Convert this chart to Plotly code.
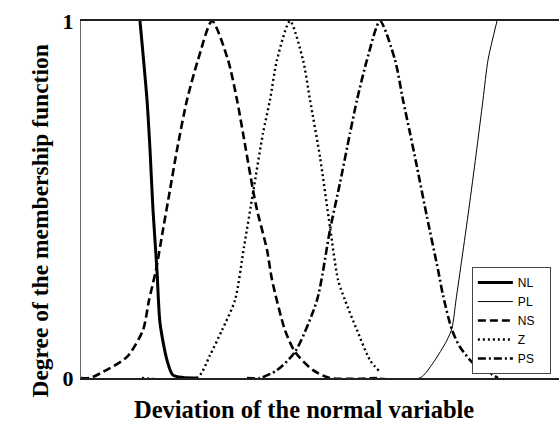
import plotly.graph_objects as go

# Deviation axis in arbitrary units (0..100 spans the plot width)
nl_x = [12.34, 13.81, 14.44, 15.06, 15.90, 16.53, 17.99, 19.25, 24.48]
nl_y = [1.0, 0.779, 0.639, 0.471, 0.30, 0.154, 0.050, 0.008, 0.0]

pl_x = [62.55, 70.92, 73.64, 76.57, 77.62, 78.45, 79.71, 81.17, 82.64, 84.10, 85.15, 87.03]
pl_y = [0.0, 0.0, 0.042, 0.106, 0.140, 0.218, 0.336, 0.476, 0.625, 0.779, 0.891, 1.0]

ns_x = [0, 1.88, 4.60, 9.62, 12.97, 14.23, 15.69, 17.15, 18.62, 20.08, 22.18, 24.48, 27.41,
        30.75, 32.64, 33.89, 35.98, 36.82, 38.91, 39.96, 42.68, 44.77, 48.54, 52.09, 61.92]
ns_y = [0, 0, 0.017, 0.059, 0.134, 0.218, 0.303, 0.415, 0.527, 0.639, 0.779, 0.891, 1.0,
        0.891, 0.779, 0.686, 0.527, 0.471, 0.359, 0.275, 0.134, 0.073, 0.022, 0, 0]

z_x = [12.76, 24.27, 26.99, 29.50, 32.22, 34.10, 35.98, 38.08, 39.54, 41.00, 43.72,
       46.44, 47.91, 50.00, 52.09, 53.77, 55.23, 57.74, 60.46, 62.55]
z_y = [0, 0, 0.064, 0.134, 0.218, 0.367, 0.518, 0.686, 0.779, 0.891, 1.0,
       0.891, 0.779, 0.619, 0.423, 0.275, 0.218, 0.134, 0.050, 0.017]

ps_x = [34.73, 37.45, 41.00, 44.77, 49.37, 52.09, 54.18, 56.28, 57.74, 59.83, 62.55,
        65.69, 67.36, 68.83, 70.29, 72.38, 74.69, 75.73, 77.62, 79.29, 82.01, 85.56, 87.24]
ps_y = [0, 0, 0.022, 0.073, 0.218, 0.415, 0.546, 0.686, 0.779, 0.891, 1.0,
        0.891, 0.779, 0.686, 0.591, 0.451, 0.303, 0.232, 0.134, 0.087, 0.042, 0.014, 0]

series_names = ["NL", "PL", "NS", "Z", "PS"]
y_tickvals = [0, 1]
y_ticktext = ["0", "1"]

serif = "Times New Roman, Liberation Serif, serif"
SM = 0.7
PAD = "\u00a0\u00a0\u00a0"

fig = go.Figure()
fig.add_trace(go.Scatter(x=nl_x, y=nl_y, name=series_names[0] + PAD, mode="lines",
                         line=dict(color="black", width=3, shape="spline", smoothing=SM)))
fig.add_trace(go.Scatter(x=pl_x, y=pl_y, name=series_names[1] + PAD, mode="lines",
                         line=dict(color="black", width=1, shape="spline", smoothing=SM)))
fig.add_trace(go.Scatter(x=ns_x, y=ns_y, name=series_names[2] + PAD, mode="lines",
                         line=dict(color="black", width=2.6, dash="8px,4px",
                                   shape="spline", smoothing=SM)))
fig.add_trace(go.Scatter(x=z_x, y=z_y, name=series_names[3] + PAD, mode="lines",
                         line=dict(color="black", width=2.4, dash="2px,3px",
                                   shape="spline", smoothing=SM)))
fig.add_trace(go.Scatter(x=ps_x, y=ps_y, name=series_names[4] + PAD, mode="lines",
                         line=dict(color="black", width=2.6, dash="8px,3px,2px,3px",
                                   shape="spline", smoothing=SM)))

fig.update_layout(
    width=559, height=423,
    margin=dict(l=81, r=0, t=21, b=45),
    paper_bgcolor="white", plot_bgcolor="white",
    showlegend=True,
    legend=dict(
        x=0.983, xanchor="right", y=0.011, yanchor="bottom",
        bgcolor="white", bordercolor="#444", borderwidth=1,
        font=dict(family="Arial, Liberation Sans, sans-serif", size=12, color="black"),
        tracegroupgap=0, itemwidth=35,
    ),
    xaxis=dict(range=[0, 100], showgrid=False, zeroline=False, showticklabels=False,
               ticks="", showline=True, linecolor="#222", linewidth=2, mirror=True),
    yaxis=dict(range=[0, 1], showgrid=False, zeroline=False, tickvals=y_tickvals,
               ticktext=y_ticktext, ticks="", showline=True, linecolor="#666", linewidth=1,
               tickfont=dict(family=serif, size=22, color="black", weight="bold"),
               ticklabelstandoff=2),
    annotations=[
        dict(text="Deviation of the normal variable", xref="paper", yref="paper",
             x=0.4655, y=-0.0896, xanchor="center", yanchor="middle", showarrow=False,
             font=dict(family=serif, size=24.5, color="black", weight="bold")),
        dict(text="Degree of the membership function", xref="paper", yref="paper",
             x=-0.0858, y=0.441, xanchor="center", yanchor="middle", showarrow=False,
             textangle=-90,
             font=dict(family=serif, size=23.5, color="black", weight="bold")),
    ],
)

fig.write_html("out.html", config={"displayModeBar": False},
               post_script="document.body.style.margin='0';document.body.style.overflow='hidden';")
